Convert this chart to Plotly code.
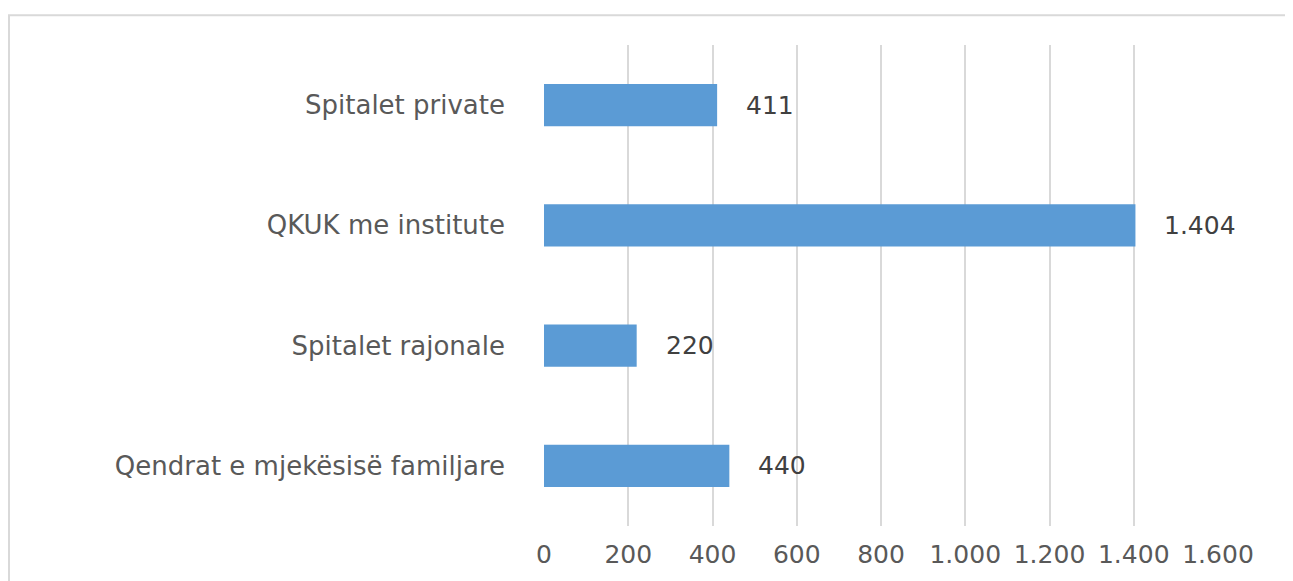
import plotly.graph_objects as go

categories = ["Qendrat e mjekësisë familjare", "Spitalet rajonale", "QKUK me institute", "Spitalet private"]
values = [440, 220, 1404, 411]
tick_vals = [0, 200, 400, 600, 800, 1000, 1200, 1400, 1600]

FONT = "DejaVu Sans"
# the page body adds an 8px offset, so the figure is 8px smaller
W, H = 1285, 573
ml, mr, mt, mb = 536, 75, 37, 49
pw, ph = W - ml - mr, H - mt - mb

fig = go.Figure()
fig.add_trace(go.Bar(
    y=categories, x=values, orientation="h",
    marker=dict(color="#5B9BD5", line=dict(width=0)),
    width=0.35, hoverinfo="skip",
))

annotations = []
for c, v in zip(categories, values):
    annotations.append(dict(
        x=v, y=c, xref="x", yref="y",
        text=f"{v:,}".replace(",", "."),
        showarrow=False, xanchor="left", yanchor="middle", xshift=27,
        font=dict(family=FONT, size=25, color="#404040"),
    ))

fig.update_layout(
    width=W, height=H,
    margin=dict(l=ml, r=mr, t=mt, b=mb, pad=0),
    paper_bgcolor="white", plot_bgcolor="white",
    showlegend=False, separators=",.",
    font=dict(family=FONT, size=25, color="#595959"),
    annotations=annotations,
    xaxis=dict(
        range=[0, 1600], tickvals=tick_vals, tickformat=",d",
        showgrid=True, gridcolor="#D9D9D9", gridwidth=2,
        zeroline=False, showline=False, ticks="",
        ticklabelstandoff=11,
        tickfont=dict(family=FONT, size=25, color="#595959"),
        fixedrange=True,
    ),
    yaxis=dict(
        categoryorder="array", categoryarray=categories,
        showgrid=False, zeroline=False, showline=False, ticks="",
        ticklabelstandoff=38,
        tickfont=dict(family=FONT, size=26, color="#595959"),
        fixedrange=True,
    ),
    shapes=[dict(
        type="rect", xref="paper", yref="paper",
        x0=(1 - ml) / pw, x1=1.5,
        y0=-0.5, y1=1 + (mt - 7) / ph,
        line=dict(color="#D9D9D9", width=2), fillcolor="rgba(0,0,0,0)", layer="below",
    )],
)

fig.write_html("out.html")
